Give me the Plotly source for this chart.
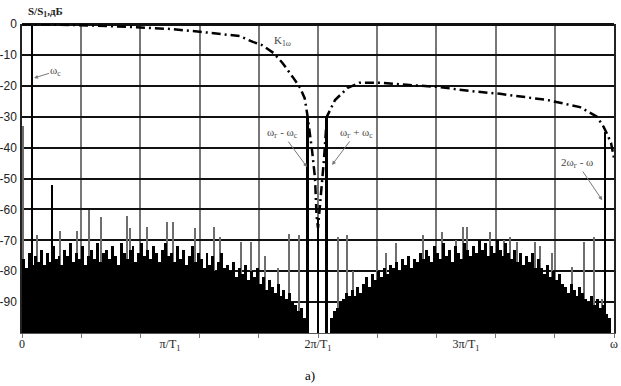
import plotly.graph_objects as go

# ---- data (x in units of pi/T1, y in dB) ----
noise_left_start = 0.01
noise_right_start = 2.09
noise_step = 0.02
noise_left = [-76, -79, -74, -78, -75, -77, -73, -78,
              -74, -77, -72, -76, -75, -78, -73, -75, -71, -77, -74, -76, -72, -78, -75, -73, -76, -71, -77, -74,
              -73, -76, -72, -75, -78, -71, -74, -76, -73, -72, -77, -74, -71, -75, -73, -76, -72, -74, -77, -73, -71, -75,
              -74, -77, -72, -76, -73, -78, -75, -72, -77, -74,
              -76, -79, -74, -78, -75, -80, -77, -74, -79, -78,
              -80, -77, -82, -79, -81, -78, -83, -80, -82, -79,
              -84, -82, -86, -83, -85, -87, -84,
              -88, -86, -89, -87, -90,
              -91, -93, -92, -95]
noise_right = [-95, -93, -92, -90,
               -89, -87, -88, -86, -88, -85, -87,
               -84, -82, -85, -81, -83, -80, -82, -79, -81, -78,
               -79, -77, -80, -76, -78, -75, -79, -76, -77, -74,
               -76, -73, -75, -77, -72, -74, -76, -71, -75, -73, -77, -72, -74, -76, -71, -73, -75, -72, -74, -70,
               -73, -71, -75, -72, -74, -70, -73, -75, -71, -74,
               -76, -73, -77, -74, -78, -75, -77, -74, -79, -76,
               -79, -81, -78, -82, -80, -83, -81, -84,
               -85, -87, -84, -86, -88, -85, -87, -89,
               -90, -88, -91, -89, -92, -91, -94, -95]

spike_x = [0.01, 0.10, 0.257, 0.372, 0.453, 0.534, 0.709, 0.73, 0.845, 0.98,
           1.02, 1.169, 1.297, 1.338, 1.48, 1.547, 1.64, 1.73, 1.804, 1.872,
           2.135, 2.196, 2.236, 2.40, 2.46, 2.527, 2.71, 2.838, 2.93, 2.98,
           3.01, 3.16, 3.26, 3.297, 3.345, 3.466, 3.50, 3.58, 3.72, 3.80, 3.865, 3.92]
spike_y = [-33, -68.4, -67, -67, -60.3, -62.5, -62, -66, -65.7, -64,
           -64, -66, -65.7, -69, -70.6, -70.6, -75, -79, -68, -68.4,
           -69, -68.4, -80, -72, -74, -71, -68.4, -67.3, -70, -65.7,
           -65.7, -67.3, -70, -69, -70.6, -70.6, -72, -74, -78.7, -70.4, -68.9, -89]

line_x = [0.07, 0.203, 1.93, 2.0, 2.06, 3.94]
line_y = [-0.5, -52, -30, -63, -30, -35]

k_x = [0, 0.25, 0.5, 0.75, 1.0, 1.2, 1.35, 1.47, 1.56, 1.62, 1.70, 1.76, 1.83, 1.88, 1.91,
       1.93, 1.96, 1.98, 1.99, 2.0, 2.02, 2.04, 2.06, 2.09, 2.115, 2.15, 2.20, 2.28, 2.42,
       2.60, 2.82, 3.03, 3.23, 3.55, 3.77, 3.885, 3.93, 3.95, 3.98, 4.0]
k_y = [0, -0.2, -0.5, -1.0, -1.6, -2.5, -3.3, -3.9, -5.8, -6.8, -9.4, -12.6, -17.2, -20.7, -24,
       -30, -41, -50, -62, -66, -55, -44, -30, -27, -24.6, -23, -20.7, -19, -19,
       -19.7, -20.4, -21.7, -22.6, -24.6, -26.9, -30, -33.3, -35.3, -38.5, -43.4]

x_tickvals = [0, 1, 2, 3, 4]
x_ticktext = ["0", "π/T<sub>1</sub>", "2π/T<sub>1</sub>", "3π/T<sub>1</sub>", "ω"]
y_tickvals = [0, -10, -20, -30, -40, -50, -60, -70, -80, -90]
y_ticktext = ["0", "-10", "-20", "-30", "-40", "-50", "-60", "-70", "-80", "-90"]

BASE = -100
left_x = [noise_left_start + noise_step * i for i in range(len(noise_left))]
right_x = [noise_right_start + noise_step * i for i in range(len(noise_right))]

fig = go.Figure()
fig.add_trace(go.Bar(x=spike_x, y=[v - BASE for v in spike_y], base=BASE, width=0.008,
                     marker=dict(color="#6e6e6e", line=dict(width=0)), showlegend=False))
fig.add_trace(go.Bar(x=left_x + right_x, y=[v - BASE for v in noise_left + noise_right], base=BASE,
                     width=noise_step, marker=dict(color="black", line=dict(width=0)), showlegend=False))
fig.add_trace(go.Bar(x=line_x, y=[v - BASE for v in line_y], base=BASE, width=0.013,
                     marker=dict(color="black", line=dict(width=0)), showlegend=False))
fig.add_trace(go.Scatter(x=k_x, y=k_y, mode="lines",
                         line=dict(color="black", width=2.5, dash="9px,4px,2px,4px"), showlegend=False))

serif = "Liberation Serif, Times New Roman, serif"
ann_font = dict(family=serif, size=11, color="#444")
arrow = dict(showarrow=True, arrowhead=2, arrowsize=0.8, arrowwidth=1, arrowcolor="#777")
annotations = [
    dict(x=0.081, y=-17.5, text="ω<sub>с</sub>", ax=22, ay=-7, font=ann_font, **arrow),
    dict(x=1.926, y=-46.3, text="ω<sub>г</sub> - ω<sub>с</sub>", ax=-25, ay=-34, font=ann_font, **arrow),
    dict(x=2.095, y=-45.6, text="ω<sub>г</sub> + ω<sub>с</sub>", ax=24, ay=-32, font=ann_font, **arrow),
    dict(x=3.92, y=-57, text="2ω<sub>г</sub> - ω", ax=-25, ay=-37, font=ann_font, **arrow),
    dict(x=1.76, y=-5.5, text="K<sub>1ω</sub>", showarrow=False, font=ann_font),
    dict(xref="paper", yref="paper", x=4 / 592, y=1 + 12 / 309, xanchor="left", yanchor="middle",
         text="<b>S/S<sub>1</sub>,дБ</b>", showarrow=False, font=dict(family=serif, size=11, color="#222")),
    dict(xref="paper", yref="paper", x=288 / 592, y=-42 / 309, xanchor="center", yanchor="middle",
         text="a)", showarrow=False, font=dict(family=serif, size=13, color="black")),
]

fig.update_layout(
    width=621, height=386,
    margin=dict(l=22, r=7, t=24, b=53),
    paper_bgcolor="white", plot_bgcolor="white",
    barmode="overlay", bargap=0,
    annotations=annotations,
    xaxis=dict(range=[0, 4], tickmode="array", tickvals=x_tickvals, ticktext=x_ticktext,
               showgrid=False, zeroline=False, ticks="", automargin=False,
               tickfont=dict(family=serif, size=12, color="#222"),
               showline=True, linecolor="#555", linewidth=1,
               minor=dict(tickmode="linear", tick0=0, dtick=0.4, showgrid=True, gridcolor="#777",
                          gridwidth=2, ticks="outside", ticklen=4, tickcolor="#777", tickwidth=1)),
    yaxis=dict(range=[-100, 0], tickmode="array", tickvals=y_tickvals, ticktext=y_ticktext,
               showgrid=True, gridcolor="#111", gridwidth=2, zeroline=True, zerolinecolor="#111",
               zerolinewidth=2.5, ticks="", automargin=False, ticklabelstandoff=1,
               showline=True, linecolor="#222", linewidth=1.5, mirror=True,
               tickfont=dict(family="Liberation Sans Narrow, Liberation Sans, sans-serif",
                             size=12, color="#222")),
)

fig.write_html("out.html", config={"displayModeBar": False},
               post_script="document.body.style.margin='0';")
